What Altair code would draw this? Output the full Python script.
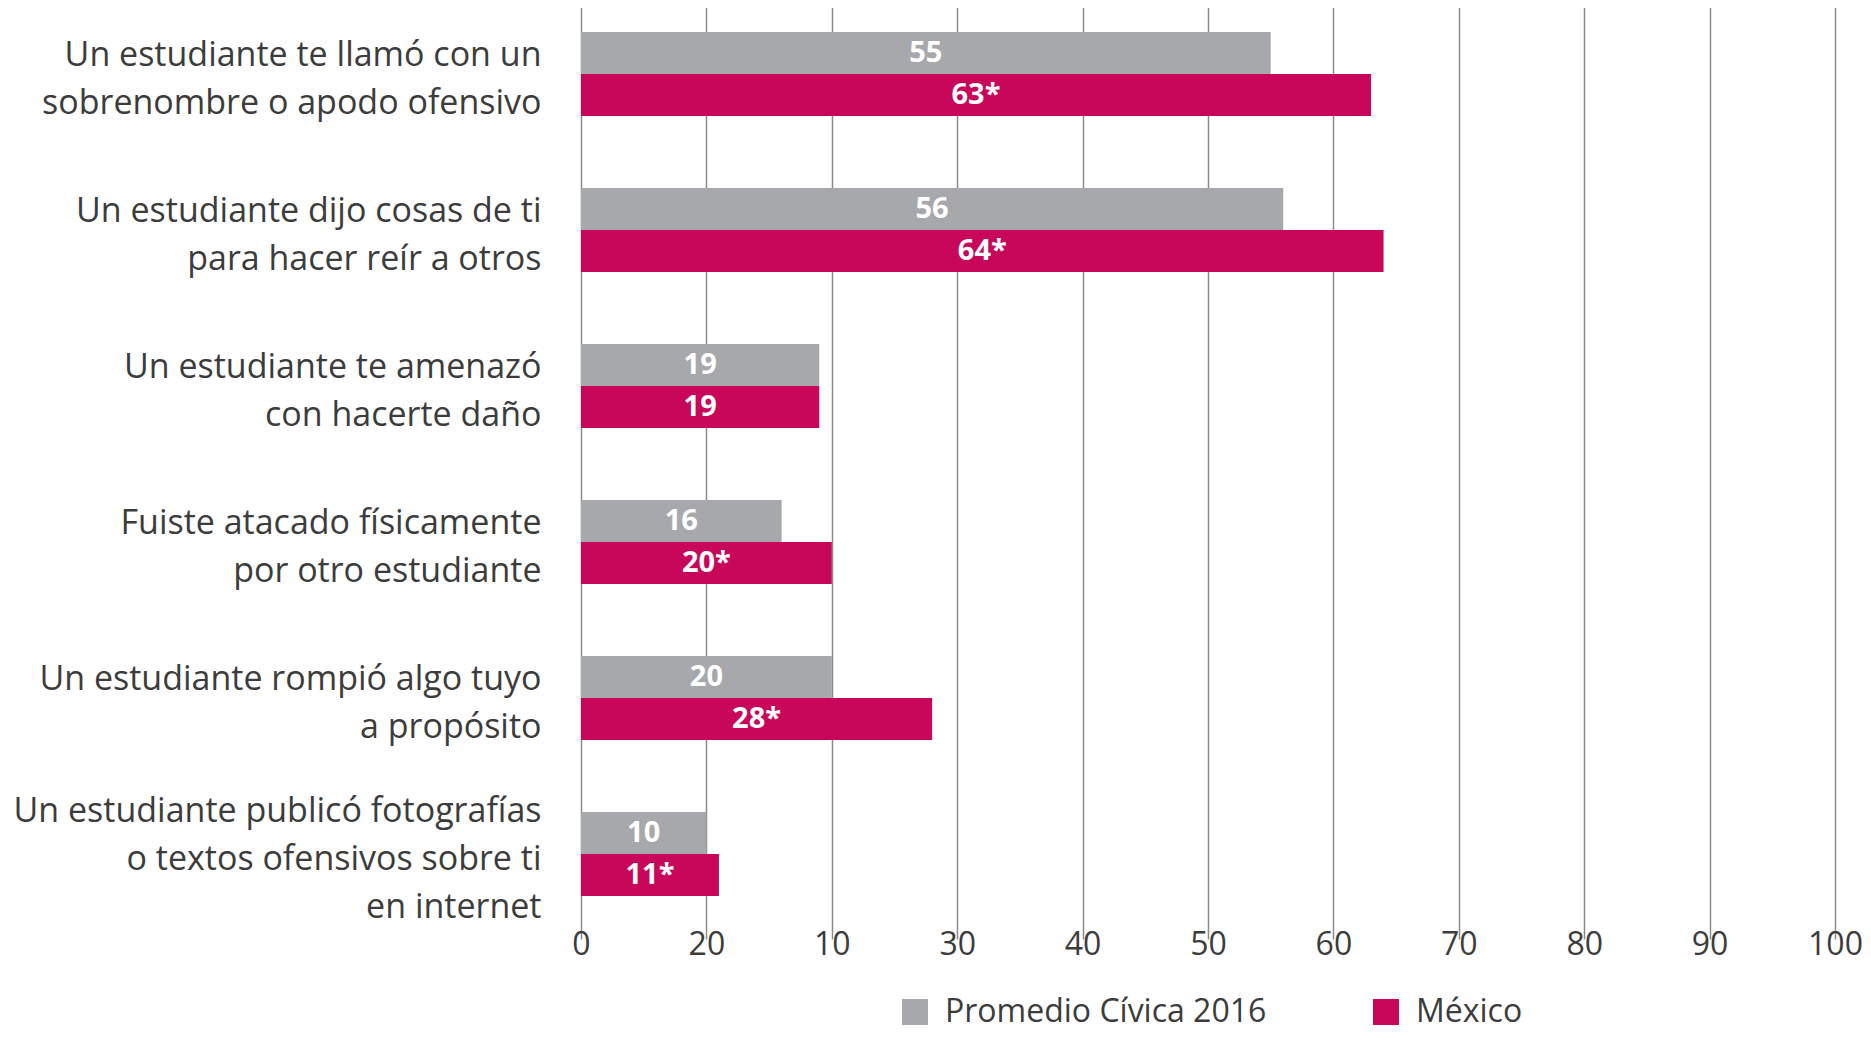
import altair as alt
import pandas as pd

categories = [
    "Un estudiante te llamó con un|sobrenombre o apodo ofensivo",
    "Un estudiante dijo cosas de ti|para hacer reír a otros",
    "Un estudiante te amenazó|con hacerte daño",
    "Fuiste atacado físicamente|por otro estudiante",
    "Un estudiante rompió algo tuyo|a propósito",
    "Un estudiante publicó fotografías|o textos ofensivos sobre ti|en internet",
]
series = ["Promedio Cívica 2016", "México"]
promedio = [55, 56, 19, 16, 20, 10]
mexico = [63, 64, 19, 20, 28, 11]
promedio_labels = ["55", "56", "19", "16", "20", "10"]
mexico_labels = ["63*", "64*", "19", "20*", "28*", "11*"]
tick_values = [0, 10, 20, 30, 40, 50, 60, 70, 80, 90, 100]
tick_labels = ["0", "20", "10", "30", "40", "50", "60", "70", "80", "90", "100"]
colors = ["#a7a8ab", "#c8065a"]

rows = []
for i, c in enumerate(categories):
    rows.append({"cat": c, "series": series[0], "value": promedio[i], "label": promedio_labels[i]})
    rows.append({"cat": c, "series": series[1], "value": mexico[i], "label": mexico_labels[i]})
df = pd.DataFrame(rows)

FONT = "Open Sans"
TXT = "#3c3c3c"
LH = 48

label_expr = "[" + ",".join("'%s'" % t for t in tick_labels) + "][round(datum.value/10)]"

y_enc = alt.Y(
    "cat:N",
    sort=categories,
    scale=alt.Scale(range=[-18, 918], paddingInner=0, paddingOuter=0),
    axis=alt.Axis(
        title=None, labelExpr="split(datum.label, '|')", ticks=False, domain=False,
        labelFont=FONT, labelFontSize=34, labelLineHeight=LH, labelPadding=40,
        labelColor=TXT, labelLimit=0, labelAlign="right", grid=False,
        labelOffset={"condition": {"test": "length(split(datum.value, '|')) > 2", "value": -LH + 5.5},
                     "value": -LH / 2 + 5.5},
    ),
)
yoff = alt.YOffset("series:N", sort=series, scale=alt.Scale(paddingInner=0, paddingOuter=0.857))

base = alt.Chart(df)

bars = base.mark_bar().encode(
    x=alt.X(
        "value:Q",
        scale=alt.Scale(domain=[0, 100], nice=False),
        axis=alt.Axis(
            values=tick_values, labelExpr=label_expr, grid=True, gridColor="#8c8c8c",
            gridWidth=1.5, ticks=False, domain=False, title=None, labelFlush=False,
            labelFont=FONT, labelFontSize=32, labelColor=TXT, labelPadding=8,
        ),
    ),
    y=y_enc,
    yOffset=yoff,
    color=alt.Color(
        "series:N", sort=series,
        scale=alt.Scale(domain=series, range=colors),
        legend=alt.Legend(
            title=None, orient="none", direction="horizontal", legendX=318, legendY=982,
            symbolType="square", symbolSize=676, symbolStrokeWidth=0, labelOffset=14,
            columnPadding=103, labelFont=FONT, labelFontSize=32, labelColor=TXT, labelLimit=0,
        ),
    ),
)

texts = base.transform_calculate(mid="datum.value / 2").mark_text(
    color="white", font=FONT, fontWeight="bold", fontSize=29, baseline="middle", align="center"
).encode(
    x=alt.X("mid:Q"),
    y=alt.Y("cat:N", sort=categories),
    yOffset=alt.YOffset("series:N", sort=series),
    text="label:N",
)

chart = alt.layer(bars, texts).properties(
    width=1254, height=907,
    autosize=alt.AutoSizeParams(type="none"),
    padding={"left": 573, "top": 6, "right": 28, "bottom": 113},
).configure_view(stroke=None)

chart.save("out.html", embed_options={"renderer": "svg", "actions": False})
